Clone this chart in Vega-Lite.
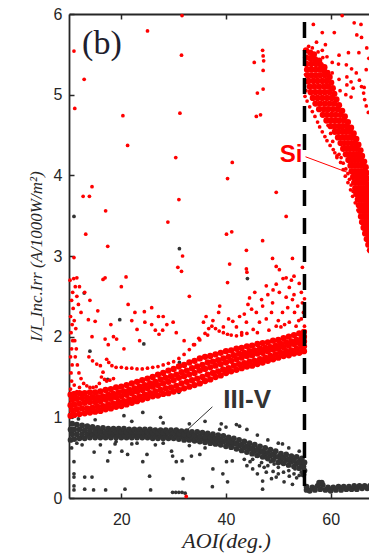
{
"$schema":"https://vega.github.io/schema/vega-lite/v6.json",
"width":300,"height":484,
"autosize":{"type":"none"},
"padding":{"left":69,"top":14,"right":0,"bottom":60},
"background":"white",
"config":{"view":{"stroke":null},"axis":{"grid":false,"domainColor":"#262626","tickColor":"#262626","labelColor":"#262626","titleColor":"#262626","domainWidth":1.8,"tickWidth":1.5,"labelFont":"Liberation Sans","labelFontSize":16}},
"datasets":{
"ivBand":[
{"x":10.3,"y":0.72},{"x":10.6,"y":0.79},{"x":10.3,"y":0.85},{"x":10.6,"y":0.92},
{"x":11,"y":0.73},{"x":11.5,"y":0.79},{"x":11,"y":0.85},{"x":11.5,"y":0.91},
{"x":12,"y":0.74},{"x":12.5,"y":0.79},{"x":12,"y":0.85},{"x":12.5,"y":0.9},
{"x":13,"y":0.74},{"x":13.5,"y":0.79},{"x":13,"y":0.84},{"x":13.5,"y":0.89},
{"x":14,"y":0.75},{"x":14.5,"y":0.79},{"x":14,"y":0.84},{"x":14.5,"y":0.88},
{"x":15,"y":0.75},{"x":15.5,"y":0.79},{"x":15,"y":0.83},{"x":15.5,"y":0.87},
{"x":16,"y":0.75},{"x":16.5,"y":0.79},{"x":16,"y":0.83},{"x":16.5,"y":0.87},
{"x":17,"y":0.75},{"x":17.5,"y":0.79},{"x":17,"y":0.82},{"x":17.5,"y":0.86},
{"x":18,"y":0.75},{"x":18.5,"y":0.79},{"x":18,"y":0.82},{"x":18.5,"y":0.86},
{"x":19,"y":0.75},{"x":19.5,"y":0.79},{"x":19,"y":0.82},{"x":19.5,"y":0.86},
{"x":20,"y":0.75},{"x":20.5,"y":0.79},{"x":20,"y":0.82},{"x":20.5,"y":0.86},
{"x":21,"y":0.75},{"x":21.5,"y":0.78},{"x":21,"y":0.82},{"x":21.5,"y":0.85},
{"x":22,"y":0.75},{"x":22.5,"y":0.78},{"x":22,"y":0.82},{"x":22.5,"y":0.85},
{"x":23,"y":0.75},{"x":23.5,"y":0.78},{"x":23,"y":0.82},{"x":23.5,"y":0.85},
{"x":24,"y":0.75},{"x":24.5,"y":0.78},{"x":24,"y":0.82},{"x":24.5,"y":0.85},
{"x":25,"y":0.75},{"x":25.5,"y":0.78},{"x":25,"y":0.82},{"x":25.5,"y":0.85},
{"x":26,"y":0.74},{"x":26.5,"y":0.77},{"x":26,"y":0.81},{"x":26.5,"y":0.84},
{"x":27,"y":0.74},{"x":27.5,"y":0.77},{"x":27,"y":0.81},{"x":27.5,"y":0.84},
{"x":28,"y":0.74},{"x":28.5,"y":0.77},{"x":28,"y":0.81},{"x":28.5,"y":0.84},
{"x":29,"y":0.74},{"x":29.5,"y":0.77},{"x":29,"y":0.81},{"x":29.5,"y":0.84},
{"x":30,"y":0.74},{"x":30.5,"y":0.77},{"x":30,"y":0.81},{"x":30.5,"y":0.84},
{"x":31,"y":0.73},{"x":31.5,"y":0.76},{"x":31,"y":0.8},{"x":31.5,"y":0.83},
{"x":32,"y":0.72},{"x":32.5,"y":0.76},{"x":32,"y":0.79},{"x":32.5,"y":0.83},
{"x":33,"y":0.72},{"x":33.5,"y":0.75},{"x":33,"y":0.79},{"x":33.5,"y":0.82},
{"x":34,"y":0.71},{"x":34.5,"y":0.75},{"x":34,"y":0.78},{"x":34.5,"y":0.82},
{"x":35,"y":0.7},{"x":35.5,"y":0.74},{"x":35,"y":0.77},{"x":35.5,"y":0.81},
{"x":36,"y":0.69},{"x":36.5,"y":0.73},{"x":36,"y":0.76},{"x":36.5,"y":0.8},
{"x":37,"y":0.68},{"x":37.5,"y":0.72},{"x":37,"y":0.75},{"x":37.5,"y":0.79},
{"x":38,"y":0.67},{"x":38.5,"y":0.71},{"x":38,"y":0.74},{"x":38.5,"y":0.78},
{"x":39,"y":0.66},{"x":39.5,"y":0.7},{"x":39,"y":0.73},{"x":39.5,"y":0.77},
{"x":40,"y":0.64},{"x":40.5,"y":0.68},{"x":40,"y":0.71},{"x":40.5,"y":0.75},
{"x":41,"y":0.63},{"x":41.5,"y":0.67},{"x":41,"y":0.7},{"x":41.5,"y":0.74},
{"x":42,"y":0.61},{"x":42.5,"y":0.65},{"x":42,"y":0.68},{"x":42.5,"y":0.72},
{"x":43,"y":0.59},{"x":43.5,"y":0.63},{"x":43,"y":0.66},{"x":43.5,"y":0.7},
{"x":44,"y":0.57},{"x":44.5,"y":0.61},{"x":44,"y":0.64},{"x":44.5,"y":0.68},
{"x":45,"y":0.55},{"x":45.5,"y":0.59},{"x":45,"y":0.62},{"x":45.5,"y":0.66},
{"x":46,"y":0.53},{"x":46.5,"y":0.57},{"x":46,"y":0.6},{"x":46.5,"y":0.64},
{"x":47,"y":0.51},{"x":47.5,"y":0.55},{"x":47,"y":0.58},{"x":47.5,"y":0.62},
{"x":48,"y":0.49},{"x":48.5,"y":0.53},{"x":48,"y":0.56},{"x":48.5,"y":0.6},
{"x":49,"y":0.47},{"x":49.5,"y":0.51},{"x":49,"y":0.54},{"x":49.5,"y":0.58},
{"x":50,"y":0.44},{"x":50.5,"y":0.48},{"x":50,"y":0.51},{"x":50.5,"y":0.55},
{"x":51,"y":0.43},{"x":51.5,"y":0.47},{"x":51,"y":0.5},{"x":51.5,"y":0.54},
{"x":52,"y":0.41},{"x":52.5,"y":0.45},{"x":52,"y":0.48},{"x":52.5,"y":0.52},
{"x":53,"y":0.39},{"x":53.5,"y":0.43},{"x":53,"y":0.47},{"x":53.5,"y":0.51},
{"x":54,"y":0.37},{"x":54.5,"y":0.41},{"x":54,"y":0.45},{"x":54.5,"y":0.49},
{"x":54.8,"y":0.29},{"x":55,"y":0.34},{"x":54.8,"y":0.39},{"x":55,"y":0.44},
{"x":55.4,"y":0.1},{"x":55.4,"y":0.14},{"x":56,"y":0.09},{"x":56.5,"y":0.13},{"x":57,"y":0.1},{"x":57.5,"y":0.15},{"x":58,"y":0.11},{"x":58.5,"y":0.16},{"x":57.8,"y":0.19},{"x":58.3,"y":0.19},
{"x":59,"y":0.1},{"x":59.5,"y":0.13},{"x":60,"y":0.09},{"x":60.5,"y":0.13},{"x":61,"y":0.1},{"x":61.5,"y":0.14},{"x":62,"y":0.1},{"x":62.5,"y":0.14},
{"x":63,"y":0.11},{"x":63.5,"y":0.14},{"x":64,"y":0.11},{"x":64.5,"y":0.15},{"x":65,"y":0.11},{"x":65.5,"y":0.15},{"x":66,"y":0.12},{"x":66.5,"y":0.15},{"x":67,"y":0.12},{"x":67.5,"y":0.15}
],
"ivPts":[
{"x":10.95,"y":3.49},{"x":31.1,"y":3.09},{"x":12.9,"y":2.54},{"x":19.7,"y":2.21},{"x":24.3,"y":1.91},{"x":14,"y":1.82},{"x":31.1,"y":1.68},{"x":39.3,"y":1.61},{"x":45.4,"y":1.72},{"x":31,"y":1.31},{"x":24.1,"y":1.06},{"x":17.4,"y":1.47},{"x":11.5,"y":1.25},{"x":14,"y":1.08},{"x":44.1,"y":2.72},{"x":10.6,"y":1.0},{"x":11.8,"y":0.98},{"x":20.5,"y":1.02},{"x":27.5,"y":1.0},
{"x":10.95,"y":0.45},{"x":10.95,"y":0.3},{"x":10.95,"y":0.26},{"x":10.95,"y":0.15},{"x":10.95,"y":0.1},{"x":13,"y":0.26},{"x":14.4,"y":0.26},{"x":13,"y":0.11},{"x":14.7,"y":0.1},{"x":17,"y":0.1},{"x":17.4,"y":0.46},{"x":14.8,"y":0.57},{"x":17.8,"y":0.57},{"x":20.1,"y":0.58},{"x":18.8,"y":0.67},{"x":22,"y":0.67},{"x":21.2,"y":0.54},{"x":20.7,"y":0.11},{"x":24.9,"y":0.54},{"x":24.1,"y":0.45},{"x":25.4,"y":0.27},{"x":25.6,"y":0.1},{"x":29.6,"y":0.58},{"x":29.8,"y":0.52},{"x":30.5,"y":0.45},{"x":31.6,"y":0.46},{"x":31.8,"y":0.24},{"x":29.8,"y":0.07},{"x":30.4,"y":0.07},{"x":31,"y":0.07},{"x":31.6,"y":0.07},{"x":32.2,"y":0.06},{"x":33.4,"y":0.52},{"x":35,"y":0.54},{"x":37.5,"y":0.36},{"x":39.4,"y":0.3},{"x":40.3,"y":0.2},{"x":37.4,"y":0.14},{"x":40.1,"y":0.45},{"x":41.2,"y":0.46},{"x":42,"y":0.91},{"x":42.6,"y":0.89},{"x":39.1,"y":0.92},{"x":38.8,"y":0.85},{"x":44.6,"y":0.45},{"x":45.1,"y":0.36},{"x":46.4,"y":0.4},{"x":47.7,"y":0.32},{"x":47,"y":0.11},{"x":47,"y":0.21},{"x":48.7,"y":0.24},{"x":49.6,"y":0.26},{"x":50.8,"y":0.67},{"x":51.1,"y":0.2},{"x":52.7,"y":0.17},{"x":52.1,"y":0.27},{"x":45.8,"y":0.52},{"x":45.1,"y":0.48},{"x":10.5,"y":0.62},{"x":11.5,"y":0.68},{"x":12.5,"y":0.66},{"x":16,"y":0.66},{"x":19,"y":0.7},{"x":23,"y":0.68},{"x":26.5,"y":0.66},{"x":28,"y":0.68},{"x":33,"y":0.65},{"x":36,"y":0.62},{"x":43.5,"y":0.48},{"x":44,"y":0.4},{"x":46,"y":0.3},{"x":48,"y":0.4},{"x":49,"y":0.33},{"x":50,"y":0.38},{"x":51,"y":0.32},{"x":52,"y":0.34},{"x":53,"y":0.3},{"x":53.5,"y":0.25},{"x":54,"y":0.28},{"x":50,"y":0.3},{"x":48.5,"y":0.45},{"x":47.5,"y":0.5},{"x":15,"y":0.97},{"x":22,"y":0.95},{"x":28,"y":0.93},{"x":33,"y":0.92},{"x":36,"y":0.95},{"x":40,"y":0.88},{"x":44,"y":0.85},{"x":46,"y":0.78},{"x":48,"y":0.72},{"x":50,"y":0.68},{"x":52,"y":0.62},{"x":54,"y":0.58},{"x":46.8,"y":0.44},{"x":49.2,"y":0.42},{"x":51.8,"y":0.4},{"x":53.2,"y":0.36},{"x":54.4,"y":0.32},{"x":47.3,"y":0.38}
],
"siBand":[
{"x":10.3,"y":1.02},{"x":10.6,"y":1.09},{"x":10.3,"y":1.15},{"x":10.6,"y":1.22},{"x":10.3,"y":1.28},
{"x":11,"y":1.03},{"x":11.5,"y":1.1},{"x":11,"y":1.16},{"x":11.5,"y":1.23},{"x":11,"y":1.29},
{"x":12,"y":1.04},{"x":12.5,"y":1.11},{"x":12,"y":1.17},{"x":12.5,"y":1.24},{"x":12,"y":1.3},
{"x":13,"y":1.05},{"x":13.5,"y":1.11},{"x":13,"y":1.18},{"x":13.5,"y":1.24},{"x":13,"y":1.3},
{"x":14,"y":1.06},{"x":14.5,"y":1.12},{"x":14,"y":1.19},{"x":14.5,"y":1.25},{"x":14,"y":1.31},
{"x":15,"y":1.07},{"x":15.5,"y":1.13},{"x":15,"y":1.19},{"x":15.5,"y":1.25},{"x":15,"y":1.31},
{"x":16,"y":1.08},{"x":16.5,"y":1.14},{"x":16,"y":1.2},{"x":16.5,"y":1.26},{"x":16,"y":1.32},
{"x":17,"y":1.1},{"x":17.5,"y":1.16},{"x":17,"y":1.22},{"x":17.5,"y":1.28},{"x":17,"y":1.34},
{"x":18,"y":1.11},{"x":18.5,"y":1.17},{"x":18,"y":1.23},{"x":18.5,"y":1.29},{"x":18,"y":1.35},
{"x":19,"y":1.13},{"x":19.5,"y":1.19},{"x":19,"y":1.25},{"x":19.5,"y":1.31},{"x":19,"y":1.37},
{"x":20,"y":1.14},{"x":20.5,"y":1.2},{"x":20,"y":1.26},{"x":20.5,"y":1.32},{"x":20,"y":1.38},
{"x":21,"y":1.16},{"x":21.5,"y":1.22},{"x":21,"y":1.28},{"x":21.5,"y":1.34},{"x":21,"y":1.4},
{"x":22,"y":1.18},{"x":22.5,"y":1.24},{"x":22,"y":1.3},{"x":22.5,"y":1.36},{"x":22,"y":1.42},
{"x":23,"y":1.2},{"x":23.5,"y":1.26},{"x":23,"y":1.32},{"x":23.5,"y":1.38},{"x":23,"y":1.44},
{"x":24,"y":1.22},{"x":24.5,"y":1.28},{"x":24,"y":1.34},{"x":24.5,"y":1.4},{"x":24,"y":1.46},
{"x":25,"y":1.24},{"x":25.5,"y":1.3},{"x":25,"y":1.36},{"x":25.5,"y":1.42},{"x":25,"y":1.48},
{"x":26,"y":1.26},{"x":26.5,"y":1.32},{"x":26,"y":1.38},{"x":26.5,"y":1.44},{"x":26,"y":1.5},
{"x":27,"y":1.27},{"x":27.5,"y":1.34},{"x":27,"y":1.4},{"x":27.5,"y":1.47},{"x":27,"y":1.53},
{"x":28,"y":1.29},{"x":28.5,"y":1.36},{"x":28,"y":1.42},{"x":28.5,"y":1.49},{"x":28,"y":1.55},
{"x":29,"y":1.3},{"x":29.5,"y":1.37},{"x":29,"y":1.44},{"x":29.5,"y":1.51},{"x":29,"y":1.58},
{"x":30,"y":1.32},{"x":30.5,"y":1.39},{"x":30,"y":1.46},{"x":30.5,"y":1.53},{"x":30,"y":1.6},
{"x":31,"y":1.34},{"x":31.5,"y":1.42},{"x":31,"y":1.49},{"x":31.5,"y":1.56},{"x":31,"y":1.63},
{"x":32,"y":1.36},{"x":32.5,"y":1.44},{"x":32,"y":1.51},{"x":32.5,"y":1.58},{"x":32,"y":1.65},
{"x":33,"y":1.38},{"x":33.5,"y":1.46},{"x":33,"y":1.53},{"x":33.5,"y":1.61},{"x":33,"y":1.68},
{"x":34,"y":1.4},{"x":34.5,"y":1.48},{"x":34,"y":1.55},{"x":34.5,"y":1.63},{"x":34,"y":1.7},
{"x":35,"y":1.42},{"x":35.5,"y":1.5},{"x":35,"y":1.58},{"x":35.5,"y":1.65},{"x":35,"y":1.73},
{"x":36,"y":1.45},{"x":36.5,"y":1.53},{"x":36,"y":1.6},{"x":36.5,"y":1.68},{"x":36,"y":1.75},
{"x":37,"y":1.47},{"x":37.5,"y":1.55},{"x":37,"y":1.62},{"x":37.5,"y":1.69},{"x":37,"y":1.76},
{"x":38,"y":1.5},{"x":38.5,"y":1.57},{"x":38,"y":1.64},{"x":38.5,"y":1.71},{"x":38,"y":1.78},
{"x":39,"y":1.52},{"x":39.5,"y":1.59},{"x":39,"y":1.66},{"x":39.5,"y":1.73},{"x":39,"y":1.8},
{"x":40,"y":1.55},{"x":40.5,"y":1.61},{"x":40,"y":1.68},{"x":40.5,"y":1.75},{"x":40,"y":1.82},
{"x":41,"y":1.57},{"x":41.5,"y":1.64},{"x":41,"y":1.7},{"x":41.5,"y":1.77},{"x":41,"y":1.83},
{"x":42,"y":1.59},{"x":42.5,"y":1.66},{"x":42,"y":1.72},{"x":42.5,"y":1.79},{"x":42,"y":1.85},
{"x":43,"y":1.61},{"x":43.5,"y":1.67},{"x":43,"y":1.74},{"x":43.5,"y":1.8},{"x":43,"y":1.86},
{"x":44,"y":1.63},{"x":44.5,"y":1.69},{"x":44,"y":1.76},{"x":44.5,"y":1.82},{"x":44,"y":1.88},
{"x":45,"y":1.64},{"x":45.5,"y":1.7},{"x":45,"y":1.77},{"x":45.5,"y":1.83},{"x":45,"y":1.89},
{"x":46,"y":1.66},{"x":46.5,"y":1.72},{"x":46,"y":1.79},{"x":46.5,"y":1.85},{"x":46,"y":1.91},
{"x":47,"y":1.68},{"x":47.5,"y":1.74},{"x":47,"y":1.8},{"x":47.5,"y":1.86},{"x":47,"y":1.92},
{"x":48,"y":1.7},{"x":48.5,"y":1.76},{"x":48,"y":1.82},{"x":48.5,"y":1.87},{"x":48,"y":1.93},
{"x":49,"y":1.72},{"x":49.5,"y":1.78},{"x":49,"y":1.84},{"x":49.5,"y":1.89},{"x":49,"y":1.95},
{"x":50,"y":1.74},{"x":50.5,"y":1.8},{"x":50,"y":1.85},{"x":50.5,"y":1.91},{"x":50,"y":1.96},
{"x":51,"y":1.76},{"x":51.5,"y":1.82},{"x":51,"y":1.87},{"x":51.5,"y":1.93},{"x":51,"y":1.98},
{"x":52,"y":1.77},{"x":52.5,"y":1.83},{"x":52,"y":1.89},{"x":52.5,"y":1.94},{"x":52,"y":2},
{"x":53,"y":1.79},{"x":53.5,"y":1.85},{"x":53,"y":1.91},{"x":53.5,"y":1.96},{"x":53,"y":2.02},
{"x":54,"y":1.8},{"x":54.5,"y":1.86},{"x":54,"y":1.92},{"x":54.5,"y":1.98},{"x":54,"y":2.04},
{"x":54.9,"y":1.82},{"x":54.9,"y":1.88},{"x":54.9,"y":1.94},{"x":54.9,"y":2},{"x":54.9,"y":2.06},
{"x":55.3,"y":5.55},{"x":56.1,"y":5.52},{"x":56.8,"y":5.5},
{"x":55.3,"y":5.46},{"x":56.1,"y":5.45},{"x":57,"y":5.44},{"x":57.8,"y":5.42},
{"x":55.4,"y":5.38},{"x":56.3,"y":5.38},{"x":57.2,"y":5.38},{"x":58.1,"y":5.37},{"x":58.8,"y":5.34},
{"x":55.5,"y":5.31},{"x":56.3,"y":5.31},{"x":57.1,"y":5.31},{"x":57.9,"y":5.31},{"x":58.7,"y":5.3},{"x":59.4,"y":5.27},
{"x":55.6,"y":5.24},{"x":56.4,"y":5.24},{"x":57.2,"y":5.24},{"x":58,"y":5.24},{"x":58.9,"y":5.24},{"x":59.8,"y":5.22},
{"x":55.8,"y":5.17},{"x":56.7,"y":5.17},{"x":57.5,"y":5.17},{"x":58.4,"y":5.17},{"x":59.2,"y":5.17},{"x":60.1,"y":5.15},
{"x":56,"y":5.1},{"x":56.9,"y":5.1},{"x":57.8,"y":5.1},{"x":58.7,"y":5.1},{"x":59.5,"y":5.1},{"x":60.4,"y":5.08},
{"x":56.2,"y":5.03},{"x":57.1,"y":5.03},{"x":58,"y":5.03},{"x":58.9,"y":5.03},{"x":59.8,"y":5.03},{"x":60.7,"y":5.01},
{"x":56.6,"y":4.96},{"x":57.5,"y":4.96},{"x":58.4,"y":4.96},{"x":59.3,"y":4.96},{"x":60.2,"y":4.96},{"x":61.1,"y":4.94},
{"x":57.1,"y":4.89},{"x":58,"y":4.89},{"x":58.9,"y":4.89},{"x":59.8,"y":4.89},{"x":60.7,"y":4.89},{"x":61.6,"y":4.87},
{"x":57.8,"y":4.82},{"x":58.7,"y":4.82},{"x":59.5,"y":4.82},{"x":60.4,"y":4.82},{"x":61.3,"y":4.82},{"x":62.2,"y":4.8},
{"x":58.5,"y":4.75},{"x":59.3,"y":4.75},{"x":60.2,"y":4.75},{"x":61,"y":4.75},{"x":61.9,"y":4.75},{"x":62.7,"y":4.73},
{"x":59.2,"y":4.68},{"x":60,"y":4.68},{"x":60.8,"y":4.68},{"x":61.6,"y":4.68},{"x":62.5,"y":4.68},{"x":63.3,"y":4.66},
{"x":60,"y":4.61},{"x":60.8,"y":4.61},{"x":61.6,"y":4.61},{"x":62.3,"y":4.61},{"x":63.1,"y":4.61},{"x":63.9,"y":4.59},
{"x":60.8,"y":4.54},{"x":61.5,"y":4.54},{"x":62.3,"y":4.54},{"x":63,"y":4.54},{"x":63.7,"y":4.54},{"x":64.4,"y":4.52},
{"x":61.4,"y":4.47},{"x":62.1,"y":4.47},{"x":62.8,"y":4.47},{"x":63.5,"y":4.47},{"x":64.2,"y":4.47},{"x":64.9,"y":4.45},
{"x":61.9,"y":4.4},{"x":62.6,"y":4.4},{"x":63.3,"y":4.4},{"x":64,"y":4.4},{"x":64.6,"y":4.4},{"x":65.3,"y":4.38},
{"x":62.4,"y":4.33},{"x":63.1,"y":4.33},{"x":63.7,"y":4.33},{"x":64.4,"y":4.33},{"x":65,"y":4.33},{"x":65.7,"y":4.31},
{"x":62.9,"y":4.26},{"x":63.6,"y":4.26},{"x":64.2,"y":4.26},{"x":64.8,"y":4.26},{"x":65.4,"y":4.26},{"x":66,"y":4.24},
{"x":63.4,"y":4.19},{"x":64,"y":4.19},{"x":64.6,"y":4.19},{"x":65.2,"y":4.19},{"x":65.8,"y":4.19},{"x":66.4,"y":4.17},
{"x":63.8,"y":4.12},{"x":64.4,"y":4.12},{"x":65,"y":4.12},{"x":65.6,"y":4.12},{"x":66.1,"y":4.12},{"x":66.7,"y":4.1},
{"x":64,"y":4.05},{"x":64.6,"y":4.05},{"x":65.2,"y":4.05},{"x":65.8,"y":4.05},{"x":66.3,"y":4.05},{"x":66.9,"y":4.03},
{"x":64.3,"y":3.98},{"x":64.9,"y":3.98},{"x":65.4,"y":3.98},{"x":66,"y":3.98},{"x":66.5,"y":3.98},{"x":67,"y":3.96},
{"x":64.5,"y":3.91},{"x":65.1,"y":3.91},{"x":65.6,"y":3.91},{"x":66.1,"y":3.91},{"x":66.6,"y":3.91},{"x":67.1,"y":3.89},
{"x":64.7,"y":3.84},{"x":65.3,"y":3.84},{"x":65.8,"y":3.84},{"x":66.3,"y":3.84},{"x":66.8,"y":3.84},{"x":67.2,"y":3.82},
{"x":64.9,"y":3.77},{"x":65.5,"y":3.77},{"x":66,"y":3.77},{"x":66.5,"y":3.77},{"x":66.9,"y":3.77},{"x":67.3,"y":3.75},
{"x":65.2,"y":3.7},{"x":65.7,"y":3.7},{"x":66.2,"y":3.7},{"x":66.6,"y":3.7},{"x":67,"y":3.7},{"x":67.4,"y":3.68},
{"x":65.4,"y":3.63},{"x":65.9,"y":3.63},{"x":66.4,"y":3.63},{"x":66.8,"y":3.63},{"x":67.2,"y":3.63},
{"x":65.6,"y":3.56},{"x":66.1,"y":3.56},{"x":66.5,"y":3.56},{"x":66.9,"y":3.56},{"x":67.3,"y":3.56},
{"x":65.8,"y":3.49},{"x":66.3,"y":3.49},{"x":66.7,"y":3.49},{"x":67.1,"y":3.49},{"x":67.5,"y":3.49},
{"x":66,"y":3.42},{"x":66.5,"y":3.42},{"x":66.9,"y":3.42},{"x":67.3,"y":3.42},
{"x":66.3,"y":3.35},{"x":66.7,"y":3.35},{"x":67.1,"y":3.35},{"x":67.5,"y":3.35},
{"x":66.6,"y":3.28},{"x":67,"y":3.28},{"x":67.4,"y":3.28},
{"x":66.9,"y":3.21},{"x":67.3,"y":3.21},{"x":67.2,"y":3.14},{"x":67.5,"y":3.07}
],
"siPts":[
{"x":10.3,"y":1.35},{"x":10.5,"y":1.45},{"x":10.4,"y":1.55},{"x":10.6,"y":1.65},{"x":10.3,"y":1.75},{"x":10.5,"y":1.85},{"x":10.7,"y":1.95},{"x":10.4,"y":2.05},{"x":10.6,"y":2.15},{"x":10.3,"y":2.25},{"x":10.8,"y":2.35},{"x":10.5,"y":2.45},{"x":10.7,"y":2.55},{"x":11.2,"y":2.62},{"x":11.5,"y":2.5},{"x":11.8,"y":2.4},{"x":12.3,"y":2.3},{"x":11,"y":2.2},{"x":11.3,"y":2.1},{"x":11.1,"y":1.95},{"x":11.4,"y":1.85},{"x":11.2,"y":1.75},{"x":11.6,"y":1.65},{"x":11.9,"y":1.55},{"x":12.3,"y":1.48},{"x":12.8,"y":1.42},{"x":13.4,"y":1.39},{"x":14,"y":1.37},{"x":14.6,"y":1.37},{"x":15.2,"y":1.38},{"x":15.8,"y":1.42},{"x":16.2,"y":1.5},{"x":16.5,"y":1.56},{"x":16.8,"y":1.47},{"x":17.2,"y":1.45},{"x":17.8,"y":1.46},{"x":18.5,"y":1.48},{"x":11,"y":1.4},{"x":11.5,"y":1.32},{"x":12,"y":1.37},{"x":10.2,"y":2.7},{"x":10.9,"y":2.72},
{"x":13.8,"y":1.75},{"x":14.5,"y":1.7},{"x":15.3,"y":1.66},{"x":16,"y":1.64},{"x":17.2,"y":1.72},{"x":17.6,"y":1.68},{"x":18.2,"y":1.64},{"x":19,"y":1.62},{"x":20,"y":1.62},{"x":21,"y":1.61},{"x":22,"y":1.61},{"x":23,"y":1.6},{"x":24,"y":1.6},{"x":25,"y":1.61},{"x":26,"y":1.62},{"x":27,"y":1.63},{"x":28,"y":1.65},{"x":29,"y":1.67},{"x":30,"y":1.69},{"x":31,"y":1.73},{"x":32,"y":1.78},{"x":33,"y":1.84},{"x":34,"y":1.9},{"x":35,"y":1.96},{"x":36,"y":2.04},{"x":36.7,"y":2.1},{"x":37.3,"y":2.13},{"x":38,"y":2.1},{"x":38.7,"y":2.07},{"x":39.5,"y":2.05},{"x":40.3,"y":2.03},{"x":41,"y":2.02},{"x":42,"y":2.01},{"x":43,"y":2.02},{"x":44,"y":2.04},
{"x":10.95,"y":5.54},{"x":12.9,"y":5.19},{"x":11.1,"y":4.83},{"x":25,"y":5.79},{"x":20.3,"y":4.74},{"x":31.6,"y":5.98},{"x":31.5,"y":5.49},{"x":31.2,"y":4.77},{"x":47,"y":5.55},{"x":47.1,"y":5.48},{"x":47.2,"y":5.42},{"x":47.1,"y":5.3},{"x":47.1,"y":5.07},{"x":46,"y":5.02},{"x":45.4,"y":5.4},{"x":45.8,"y":4.73},{"x":46.6,"y":4.75},
{"x":21.2,"y":4.37},{"x":30.4,"y":4.22},{"x":41.2,"y":4.16},{"x":40.3,"y":3.96},{"x":12.7,"y":3.74},{"x":13.9,"y":3.74},{"x":14.4,"y":3.86},{"x":17,"y":3.56},{"x":31,"y":3.7},{"x":28.9,"y":3.42},{"x":13.2,"y":3.27},{"x":17.4,"y":3.12},{"x":10.95,"y":2.98},{"x":40.1,"y":3.27},{"x":41.1,"y":3.3},{"x":43.9,"y":3.07},{"x":47,"y":3.19},{"x":49.6,"y":3.79},{"x":51.5,"y":3.49},{"x":48.9,"y":2.97},{"x":52.7,"y":2.97},{"x":31.7,"y":3},{"x":40.7,"y":2.9},{"x":30.8,"y":2.86},{"x":31.5,"y":2.81},{"x":49.6,"y":2.87},{"x":50.2,"y":2.83},{"x":43.9,"y":2.84},{"x":54.6,"y":2.86},{"x":53,"y":2.75},{"x":51.5,"y":2.73},{"x":44,"y":2.8},{"x":16.9,"y":2.73},{"x":20.9,"y":2.74},{"x":11.5,"y":2.73},{"x":32.4,"y":0.02},
{"x":13.7,"y":2.21},{"x":15,"y":2.19},{"x":14.4,"y":2},{"x":16.9,"y":1.97},{"x":21.3,"y":2.4},{"x":22.6,"y":2.3},{"x":25.8,"y":2.36},{"x":24.4,"y":2.31},{"x":27.1,"y":2.25},{"x":18.5,"y":2},{"x":19.1,"y":1.97},{"x":25.8,"y":2.15},{"x":26.5,"y":2.08},{"x":27.2,"y":2.03},{"x":27.9,"y":2.08},{"x":28.7,"y":2.15},{"x":24.5,"y":2.18},{"x":23,"y":2.09},{"x":29.9,"y":2.18},{"x":28,"y":2.25},{"x":38.8,"y":2.38},{"x":40.3,"y":2.67},{"x":44.2,"y":2.4},{"x":44.9,"y":2.34},{"x":45.8,"y":2.3},{"x":47.7,"y":2.63},{"x":48,"y":2.52},{"x":49.6,"y":2.65},{"x":50.2,"y":2.55},{"x":51.5,"y":2.49},{"x":52.1,"y":2.61},{"x":52.7,"y":2.46},{"x":53.7,"y":2.38},{"x":54.4,"y":2.55},{"x":54.6,"y":2.42},{"x":47,"y":2.38},{"x":48.9,"y":2.42},{"x":48.7,"y":2.3},{"x":50.8,"y":2.3},{"x":46.4,"y":2.18},{"x":43.9,"y":2.18},{"x":42.6,"y":2.25},{"x":41.3,"y":2.19},{"x":45.2,"y":2.09},{"x":49.6,"y":2.13},{"x":52.1,"y":2.18},{"x":53.4,"y":2.13},{"x":54.4,"y":2.22},{"x":53.1,"y":2.3},{"x":47.7,"y":2.22},{"x":38.6,"y":2.3},{"x":35.7,"y":2.18},{"x":33.8,"y":1.9},{"x":36.2,"y":2.25},{"x":39.5,"y":2.12},{"x":43,"y":2.05},{"x":46,"y":2.05},{"x":48.2,"y":2.08},{"x":50.5,"y":2.12},{"x":51.8,"y":2.36},{"x":53,"y":2.52},{"x":54,"y":2.66},{"x":55,"y":2.47},{"x":54.8,"y":2.3},{"x":49,"y":2.58},{"x":50.9,"y":2.72},{"x":52.5,"y":2.7},{"x":46.8,"y":2.46},{"x":45.5,"y":2.55},{"x":44.5,"y":2.48},{"x":53.9,"y":2.2},{"x":55,"y":2.13},{"x":50,"y":2.2},{"x":51.2,"y":2.15},{"x":42,"y":2.12},{"x":43.5,"y":2.28},{"x":40.5,"y":2.22},{"x":37.5,"y":2.2},{"x":36.5,"y":2.02},{"x":34.8,"y":1.98},{"x":33,"y":2.5},{"x":16.5,"y":2.71},{"x":20,"y":2.62},{"x":12,"y":2.62},{"x":13,"y":2.55},{"x":14,"y":2.45},{"x":15.5,"y":2.32},{"x":18,"y":2.15},{"x":22,"y":2.2},{"x":17.5,"y":1.9},{"x":20.5,"y":1.85},{"x":23.5,"y":1.95},{"x":30.5,"y":2.05},{"x":32,"y":1.95},
{"x":55.1,"y":4.98},{"x":55.5,"y":4.92},{"x":56,"y":4.85},{"x":56.5,"y":4.79},{"x":57,"y":4.73},{"x":57.5,"y":4.66},{"x":57.9,"y":4.6},{"x":58.4,"y":4.54},{"x":58.9,"y":4.48},{"x":59.3,"y":4.43},{"x":59.9,"y":4.37},{"x":60.5,"y":4.32},{"x":61.2,"y":4.24},{"x":61.9,"y":4.16},{"x":62.4,"y":4.07},{"x":62.8,"y":3.99},{"x":63.3,"y":3.91},{"x":63.8,"y":3.82},{"x":64.2,"y":3.74},{"x":64.7,"y":3.66},{"x":65.2,"y":3.57},{"x":65.7,"y":3.49},{"x":66.2,"y":3.41},{"x":66.6,"y":3.33},{"x":67,"y":3.26},
{"x":59.5,"y":4.62},{"x":60,"y":4.52},{"x":60.4,"y":4.42},{"x":60.8,"y":4.28},{"x":61.2,"y":4.22},{"x":61.6,"y":4.26},{"x":62,"y":4.22},{"x":62.4,"y":4.15},{"x":62.9,"y":4.08},{"x":63.3,"y":4.02},{"x":63.6,"y":3.95},{"x":63.9,"y":3.88},{"x":64.3,"y":3.8},
{"x":58.4,"y":5.55},{"x":59.3,"y":5.47},{"x":60.3,"y":5.4},{"x":61.5,"y":5.38},{"x":63,"y":5.37},{"x":64,"y":5.32},{"x":64.9,"y":5.27},{"x":65.5,"y":5.18},{"x":65.9,"y":5.1},{"x":66.3,"y":5.02},{"x":66.5,"y":4.94},{"x":66.8,"y":4.86},{"x":67.2,"y":4.78},
{"x":56.7,"y":5.87},{"x":58.4,"y":5.77},{"x":60.7,"y":5.77},{"x":62.2,"y":5.98},{"x":64.5,"y":5.89},{"x":65.8,"y":5.87},{"x":65,"y":5.74},{"x":65.9,"y":5.71},{"x":63.4,"y":5.52},{"x":61.6,"y":5.49},{"x":65.4,"y":5.52},{"x":60.3,"y":5.27},{"x":61.6,"y":5.19},{"x":63.1,"y":5.22},{"x":63.9,"y":5.16},{"x":63.1,"y":5.12},{"x":66.8,"y":5.31},{"x":66.4,"y":5.09},{"x":63.9,"y":4.97},{"x":57.3,"y":5.65},{"x":59,"y":5.62},{"x":62.9,"y":5},{"x":61.8,"y":5.05},{"x":64.3,"y":5.08},{"x":66.9,"y":5.58},{"x":67.3,"y":5.45},{"x":55.2,"y":5.25},{"x":55.2,"y":5.15},{"x":55.3,"y":5.05},{"x":57.6,"y":5.53},{"x":58.5,"y":5.46},{"x":55.8,"y":5.6},{"x":56.5,"y":5.58}
]
},
"layer":[
{"data":{"name":"ivBand"},"mark":{"type":"circle","size":34,"color":"#333333","opacity":1},
 "encoding":{
  "x":{"field":"x","type":"quantitative","scale":{"domain":[10,67.33],"nice":false,"zero":false},
   "axis":{"orient":"bottom","values":[20,40,60],"tickSize":-5,"labelPadding":18,"title":"AOI(deg.)","titleFont":"Liberation Serif","titleFontStyle":"italic","titleFontWeight":"normal","titleFontSize":22,"titlePadding":3,"titleX":157}},
  "y":{"field":"y","type":"quantitative","scale":{"domain":[0,6],"nice":false,"zero":false},
   "axis":{"orient":"left","values":[0,1,2,3,4,5,6],"tickSize":-5,"labelPadding":12,"title":"I/I_Inc.Irr (A/1000W/m²)","titleFont":"Liberation Serif","titleFontStyle":"italic","titleFontWeight":"normal","titleFontSize":17,"titlePadding":8}}}},
{"data":{"name":"ivPts"},"mark":{"type":"circle","size":14,"color":"#333333","opacity":1},
 "encoding":{"x":{"field":"x","type":"quantitative","scale":{"domain":[10,67.33],"nice":false,"zero":false},"axis":null},"y":{"field":"y","type":"quantitative","scale":{"domain":[0,6],"nice":false,"zero":false},"axis":null}}},
{"data":{"name":"siBand"},"mark":{"type":"circle","size":40,"color":"#ff0000","opacity":1},
 "encoding":{"x":{"field":"x","type":"quantitative","scale":{"domain":[10,67.33],"nice":false,"zero":false},"axis":null},"y":{"field":"y","type":"quantitative","scale":{"domain":[0,6],"nice":false,"zero":false},"axis":null}}},
{"data":{"name":"siPts"},"mark":{"type":"circle","size":14,"color":"#ff0000","opacity":1},
 "encoding":{"x":{"field":"x","type":"quantitative","scale":{"domain":[10,67.33],"nice":false,"zero":false},"axis":null},"y":{"field":"y","type":"quantitative","scale":{"domain":[0,6],"nice":false,"zero":false},"axis":null}}},
{"data":{"values":[{"x":55}]},"mark":{"type":"rule","color":"#000000","strokeWidth":3.5,"strokeDash":[16,12],"strokeDashOffset":20},
 "encoding":{"x":{"field":"x","type":"quantitative","scale":{"domain":[10,67.33],"nice":false,"zero":false},
  "axis":{"orient":"top","values":[20,40,60],"tickSize":-5,"labels":false,"title":null}}}},
{"data":{"values":[{"x":55.2,"y":4.23,"x2":63.5,"y2":4.03}]},"mark":{"type":"rule","color":"#ff0000","strokeWidth":1},
 "encoding":{"x":{"field":"x","type":"quantitative","scale":{"domain":[10,67.33],"nice":false,"zero":false},"axis":null},"y":{"field":"y","type":"quantitative","scale":{"domain":[0,6],"nice":false,"zero":false},"axis":null},"x2":{"field":"x2"},"y2":{"field":"y2"}}},
{"data":{"values":[{"x":37.4,"y":1.13,"x2":32.2,"y2":0.82}]},"mark":{"type":"rule","color":"#333333","strokeWidth":1},
 "encoding":{"x":{"field":"x","type":"quantitative","scale":{"domain":[10,67.33],"nice":false,"zero":false},"axis":null},"y":{"field":"y","type":"quantitative","scale":{"domain":[0,6],"nice":false,"zero":false},"axis":null},"x2":{"field":"x2"},"y2":{"field":"y2"}}},
{"data":{"values":[{"x":12.5,"y":5.5,"t":"(b)"}]},"mark":{"type":"text","font":"Liberation Serif","fontSize":34,"align":"left","baseline":"alphabetic","color":"#1e1e2e"},
 "encoding":{"x":{"field":"x","type":"quantitative","scale":{"domain":[10,67.33],"nice":false,"zero":false},"axis":null},"y":{"field":"y","type":"quantitative","scale":{"domain":[0,6],"nice":false,"zero":false},"axis":null},"text":{"field":"t"}}},
{"data":{"values":[{"x":54.6,"y":4.17,"t":"Si"}]},"mark":{"type":"text","font":"Liberation Sans","fontWeight":"bold","fontSize":24,"align":"right","baseline":"alphabetic","color":"#ff0000"},
 "encoding":{"x":{"field":"x","type":"quantitative","scale":{"domain":[10,67.33],"nice":false,"zero":false},"axis":null},"y":{"field":"y","type":"quantitative","scale":{"domain":[0,6],"nice":false,"zero":false},"axis":null},"text":{"field":"t"}}},
{"data":{"values":[{"x":39.5,"y":1.12,"t":"III-V"}]},"mark":{"type":"text","font":"Liberation Sans","fontWeight":"bold","fontSize":26,"align":"left","baseline":"alphabetic","color":"#333333"},
 "encoding":{"x":{"field":"x","type":"quantitative","scale":{"domain":[10,67.33],"nice":false,"zero":false},"axis":null},"y":{"field":"y","type":"quantitative","scale":{"domain":[0,6],"nice":false,"zero":false},"axis":null},"text":{"field":"t"}}}
],
"resolve":{"axis":{"x":"independent","y":"independent"}}
}
